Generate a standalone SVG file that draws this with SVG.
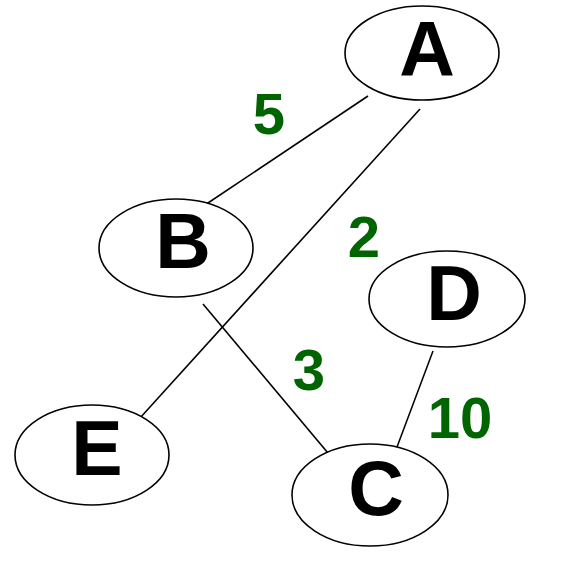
<svg xmlns="http://www.w3.org/2000/svg" width="566" height="574" viewBox="0 0 566 574">
<style>
.node ellipse{fill:#fff;stroke:#000;stroke-width:1.6}
.node text{font-family:"Liberation Sans",Arial,sans-serif;font-weight:bold;font-size:77px;fill:#000;text-anchor:middle}
.edges line{stroke:#000;stroke-width:1.6}
.lbl{font-family:"Liberation Sans",Arial,sans-serif;font-weight:bold;font-size:58px;fill:#006400;text-anchor:middle}
</style>
<rect width="566" height="574" fill="#fff"/>
<g id="edges" class="edges">
<line x1="368" y1="96" x2="202" y2="207"/>
<line x1="420" y1="109" x2="140" y2="418"/>
<line x1="203" y1="304" x2="333" y2="459"/>
<line x1="433" y1="351" x2="397" y2="447"/>
</g>
<g id="edge-labels">
<text class="lbl" x="269" y="134">5</text>
<text class="lbl" x="364" y="257">2</text>
<text class="lbl" x="309" y="390">3</text>
<text class="lbl" x="460" y="438">10</text>
</g>
<g id="A" class="node"><ellipse cx="422" cy="53" rx="77" ry="47"/><text x="427" y="76">A</text></g>
<g id="B" class="node"><ellipse cx="176" cy="248" rx="77" ry="49"/><text x="183" y="268">B</text></g>
<g id="D" class="node"><ellipse cx="447" cy="299" rx="78" ry="48"/><text x="454" y="320">D</text></g>
<g id="E" class="node"><ellipse cx="92" cy="455" rx="77" ry="50"/><text x="97" y="475">E</text></g>
<g id="C" class="node"><ellipse cx="370" cy="495" rx="78" ry="51"/><text x="376" y="515">C</text></g>
</svg>
